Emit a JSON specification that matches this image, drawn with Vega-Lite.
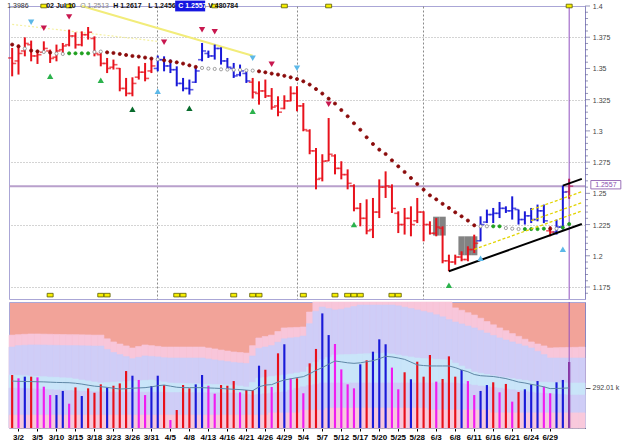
{
"$schema": "https://vega.github.io/schema/vega-lite/v6.json",
"padding": {"left": 6, "top": 0, "right": 2, "bottom": 2},
"background": "white",
"spacing": 1,
"config": {"view": {"stroke": "#aaa6d6"}, "axis": {"labelFont": "Liberation Sans"}, "text": {"font": "Liberation Sans"}},
"datasets": {
"bars": [
{"d":"3/1","o":1.3584,"h":1.3664,"l":1.3437,"c":1.354,"t":"dn","v":386,"vc":"r","ma":342,"b1":677,"b2":590,"b3":386,"b4":291,"b5":95,"s":1.3691,"ss":"m"},
{"d":"3/2","o":1.356,"h":1.3691,"l":1.3451,"c":1.362,"t":"dn","v":362,"vc":"m","ma":340,"b1":680,"b2":600,"b3":384,"b4":289,"b5":95,"s":1.3677,"ss":"m"},
{"d":"3/3","o":1.364,"h":1.3749,"l":1.3597,"c":1.37,"t":"dn","v":374,"vc":"b","ma":339,"b1":683,"b2":603,"b3":381,"b4":287,"b5":95,"s":1.3659,"ss":"w"},
{"d":"3/4","o":1.369,"h":1.3723,"l":1.3557,"c":1.36,"t":"dn","v":374,"vc":"r","ma":338,"b1":685,"b2":605,"b3":379,"b4":285,"b5":95,"s":1.3643,"ss":"m"},
{"d":"3/5","o":1.36,"h":1.3643,"l":1.3536,"c":1.361,"t":"dn","v":369,"vc":"m","ma":337,"b1":685,"b2":605,"b3":376,"b4":283,"b5":95,"s":1.3637,"ss":"m"},
{"d":"3/8","o":1.363,"h":1.3717,"l":1.3624,"c":1.366,"t":"dn","v":301,"vc":"m","ma":336,"b1":684,"b2":604,"b3":374,"b4":281,"b5":95,"s":1.3632,"ss":"w"},
{"d":"3/9","o":1.364,"h":1.3651,"l":1.3544,"c":1.358,"t":"dn","v":240,"vc":"m","ma":334,"b1":683,"b2":603,"b3":371,"b4":279,"b5":95,"s":1.3627,"ss":"m"},
{"d":"3/10","o":1.359,"h":1.3691,"l":1.3557,"c":1.364,"t":"dn","v":240,"vc":"b","ma":332,"b1":682,"b2":602,"b3":369,"b4":277,"b5":95,"s":1.3619,"ss":"w"},
{"d":"3/11","o":1.365,"h":1.3704,"l":1.3624,"c":1.368,"t":"dn","v":270,"vc":"b","ma":331,"b1":681,"b2":601,"b3":366,"b4":275,"b5":95,"s":1.3616,"ss":"w"},
{"d":"3/12","o":1.369,"h":1.3811,"l":1.3677,"c":1.376,"t":"dn","v":177,"vc":"m","ma":330,"b1":680,"b2":600,"b3":364,"b4":273,"b5":95,"s":1.3621,"ss":"g"},
{"d":"3/15","o":1.376,"h":1.3789,"l":1.3659,"c":1.369,"t":"dn","v":296,"vc":"r","ma":326,"b1":680,"b2":600,"b3":357,"b4":270,"b5":95,"s":1.3621,"ss":"g"},
{"d":"3/16","o":1.369,"h":1.3797,"l":1.3677,"c":1.377,"t":"dn","v":233,"vc":"b","ma":320,"b1":679,"b2":599,"b3":350,"b4":268,"b5":95,"s":1.3621,"ss":"g"},
{"d":"3/17","o":1.377,"h":1.3832,"l":1.3731,"c":1.379,"t":"dn","v":289,"vc":"r","ma":312,"b1":678,"b2":598,"b3":342,"b4":266,"b5":95,"s":1.3621,"ss":"g"},
{"d":"3/18","o":1.374,"h":1.3757,"l":1.3597,"c":1.362,"t":"dn","v":257,"vc":"r","ma":305,"b1":677,"b2":597,"b3":335,"b4":264,"b5":95,"s":1.3632,"ss":"w"},
{"d":"3/19","o":1.361,"h":1.3637,"l":1.3517,"c":1.354,"t":"dn","v":318,"vc":"r","ma":301,"b1":677,"b2":597,"b3":328,"b4":262,"b5":95,"s":1.3635,"ss":"w"},
{"d":"3/22","o":1.354,"h":1.3584,"l":1.3463,"c":1.35,"t":"dn","v":294,"vc":"b","ma":296,"b1":650,"b2":572,"b3":331,"b4":262,"b5":95,"s":1.3629,"ss":"m"},
{"d":"3/23","o":1.351,"h":1.3571,"l":1.3491,"c":1.353,"t":"dn","v":308,"vc":"r","ma":290,"b1":627,"b2":550,"b3":334,"b4":261,"b5":95,"s":1.3624,"ss":"m"},
{"d":"3/24","o":1.35,"h":1.3504,"l":1.3317,"c":1.334,"t":"dn","v":325,"vc":"r","ma":284,"b1":612,"b2":535,"b3":336,"b4":261,"b5":95,"s":1.3616,"ss":"m"},
{"d":"3/25","o":1.334,"h":1.3424,"l":1.3277,"c":1.33,"t":"dn","v":415,"vc":"r","ma":286,"b1":598,"b2":520,"b3":339,"b4":261,"b5":95,"s":1.3608,"ss":"m"},
{"d":"3/26","o":1.33,"h":1.3429,"l":1.3277,"c":1.338,"t":"dn","v":381,"vc":"b","ma":290,"b1":583,"b2":505,"b3":342,"b4":260,"b5":95,"s":1.36,"ss":"m"},
{"d":"3/29","o":1.343,"h":1.3517,"l":1.3411,"c":1.347,"t":"dn","v":350,"vc":"m","ma":292,"b1":594,"b2":515,"b3":344,"b4":260,"b5":95,"s":1.3595,"ss":"m"},
{"d":"3/30","o":1.347,"h":1.3544,"l":1.3397,"c":1.342,"t":"dn","v":240,"vc":"m","ma":294,"b1":605,"b2":525,"b3":347,"b4":260,"b5":95,"s":1.3587,"ss":"m"},
{"d":"3/31","o":1.348,"h":1.3584,"l":1.3463,"c":1.352,"t":"dn","v":306,"vc":"b","ma":300,"b1":600,"b2":522,"b3":350,"b4":259,"b5":95,"s":1.3579,"ss":"m"},
{"d":"4/1","o":1.35,"h":1.3603,"l":1.3477,"c":1.357,"t":"up","v":381,"vc":"b","ma":308,"b1":595,"b2":518,"b3":343,"b4":259,"b5":95,"s":1.3573,"ss":"w"},
{"d":"4/2","o":1.357,"h":1.3597,"l":1.3477,"c":1.352,"t":"up","v":313,"vc":"r","ma":313,"b1":590,"b2":512,"b3":335,"b4":259,"b5":95,"s":1.3565,"ss":"m"},
{"d":"4/5","o":1.352,"h":1.3571,"l":1.3463,"c":1.349,"t":"up","v":58,"vc":"m","ma":305,"b1":590,"b2":510,"b3":328,"b4":258,"b5":95,"s":1.3557,"ss":"m"},
{"d":"4/6","o":1.349,"h":1.3517,"l":1.3357,"c":1.338,"t":"up","v":131,"vc":"r","ma":297,"b1":590,"b2":510,"b3":326,"b4":258,"b5":95,"s":1.3549,"ss":"m"},
{"d":"4/7","o":1.338,"h":1.3424,"l":1.3317,"c":1.334,"t":"up","v":313,"vc":"r","ma":294,"b1":590,"b2":510,"b3":325,"b4":258,"b5":95,"s":1.3539,"ss":"m"},
{"d":"4/8","o":1.334,"h":1.3411,"l":1.3291,"c":1.333,"t":"up","v":289,"vc":"r","ma":294,"b1":590,"b2":510,"b3":323,"b4":257,"b5":95,"s":1.3525,"ss":"m"},
{"d":"4/9","o":1.339,"h":1.3504,"l":1.3384,"c":1.348,"t":"up","v":318,"vc":"b","ma":294,"b1":590,"b2":510,"b3":322,"b4":257,"b5":95,"s":1.3512,"ss":"m"},
{"d":"4/12","o":1.357,"h":1.3704,"l":1.3557,"c":1.364,"t":"up","v":386,"vc":"b","ma":294,"b1":590,"b2":510,"b3":320,"b4":257,"b5":95,"s":1.3504,"ss":"w"},
{"d":"4/13","o":1.362,"h":1.3643,"l":1.3584,"c":1.36,"t":"up","v":308,"vc":"m","ma":292,"b1":583,"b2":503,"b3":319,"b4":256,"b5":95,"s":1.3499,"ss":"w"},
{"d":"4/14","o":1.36,"h":1.3691,"l":1.3571,"c":1.366,"t":"up","v":250,"vc":"m","ma":290,"b1":576,"b2":496,"b3":317,"b4":256,"b5":95,"s":1.3496,"ss":"w"},
{"d":"4/15","o":1.366,"h":1.3669,"l":1.3531,"c":1.356,"t":"up","v":313,"vc":"r","ma":288,"b1":568,"b2":490,"b3":316,"b4":256,"b5":95,"s":1.3493,"ss":"w"},
{"d":"4/16","o":1.356,"h":1.3584,"l":1.3491,"c":1.351,"t":"up","v":308,"vc":"r","ma":285,"b1":561,"b2":484,"b3":314,"b4":255,"b5":95,"s":1.3491,"ss":"w"},
{"d":"4/19","o":1.35,"h":1.3544,"l":1.3424,"c":1.344,"t":"up","v":342,"vc":"r","ma":282,"b1":554,"b2":478,"b3":313,"b4":255,"b5":95,"s":1.3489,"ss":"w"},
{"d":"4/20","o":1.345,"h":1.3531,"l":1.3437,"c":1.348,"t":"up","v":260,"vc":"m","ma":280,"b1":550,"b2":474,"b3":306,"b4":250,"b5":95,"s":1.3488,"ss":"w"},
{"d":"4/21","o":1.346,"h":1.3477,"l":1.3384,"c":1.34,"t":"up","v":277,"vc":"r","ma":276,"b1":546,"b2":470,"b3":299,"b4":245,"b5":95,"s":1.3485,"ss":"w"},
{"d":"4/22","o":1.339,"h":1.3424,"l":1.3259,"c":1.331,"t":"dn","v":277,"vc":"r","ma":272,"b1":600,"b2":525,"b3":332,"b4":240,"b5":95,"s":1.3483,"ss":"w"},
{"d":"4/23","o":1.33,"h":1.3397,"l":1.321,"c":1.332,"t":"dn","v":454,"vc":"b","ma":300,"b1":656,"b2":580,"b3":364,"b4":244,"b5":95,"s":1.3477,"ss":"m"},
{"d":"4/26","o":1.332,"h":1.3411,"l":1.3263,"c":1.328,"t":"dn","v":425,"vc":"r","ma":313,"b1":667,"b2":590,"b3":370,"b4":249,"b5":95,"s":1.3469,"ss":"m"},
{"d":"4/27","o":1.328,"h":1.3343,"l":1.317,"c":1.319,"t":"dn","v":299,"vc":"m","ma":316,"b1":677,"b2":600,"b3":375,"b4":253,"b5":110,"s":1.3459,"ss":"m"},
{"d":"4/28","o":1.32,"h":1.3277,"l":1.3117,"c":1.315,"t":"dn","v":544,"vc":"r","ma":335,"b1":703,"b2":625,"b3":381,"b4":258,"b5":110,"s":1.3451,"ss":"m"},
{"d":"4/29","o":1.318,"h":1.3285,"l":1.3173,"c":1.324,"t":"dn","v":610,"vc":"b","ma":350,"b1":729,"b2":650,"b3":386,"b4":262,"b5":110,"s":1.3441,"ss":"m"},
{"d":"4/30","o":1.324,"h":1.3357,"l":1.3237,"c":1.33,"t":"dn","v":362,"vc":"m","ma":358,"b1":731,"b2":656,"b3":393,"b4":275,"b5":110,"s":1.3429,"ss":"m"},
{"d":"5/3","o":1.33,"h":1.3357,"l":1.3157,"c":1.32,"t":"dn","v":362,"vc":"r","ma":367,"b1":733,"b2":660,"b3":401,"b4":288,"b5":110,"s":1.3415,"ss":"m"},
{"d":"5/4","o":1.32,"h":1.3223,"l":1.2997,"c":1.301,"t":"dn","v":253,"vc":"m","ma":374,"b1":736,"b2":670,"b3":408,"b4":300,"b5":130,"s":1.3397,"ss":"m"},
{"d":"5/5","o":1.3,"h":1.3013,"l":1.2813,"c":1.284,"t":"dn","v":471,"vc":"r","ma":395,"b1":845,"b2":760,"b3":445,"b4":309,"b5":130,"s":1.3371,"ss":"m"},
{"d":"5/6","o":1.284,"h":1.2863,"l":1.2532,"c":1.2612,"t":"dn","v":576,"vc":"r","ma":420,"b1":918,"b2":850,"b3":481,"b4":318,"b5":130,"s":1.3335,"ss":"m"},
{"d":"5/7","o":1.262,"h":1.2813,"l":1.2596,"c":1.2757,"t":"dn","v":835,"vc":"b","ma":440,"b1":918,"b2":881,"b3":498,"b4":328,"b5":130,"s":1.3299,"ss":"m"},
{"d":"5/10","o":1.276,"h":1.3103,"l":1.2757,"c":1.2813,"t":"dn","v":677,"vc":"b","ma":465,"b1":918,"b2":870,"b3":515,"b4":328,"b5":146,"s":1.3258,"ss":"m"},
{"d":"5/11","o":1.28,"h":1.2813,"l":1.2652,"c":1.27,"t":"dn","v":612,"vc":"m","ma":488,"b1":918,"b2":860,"b3":532,"b4":328,"b5":146,"s":1.3219,"ss":"m"},
{"d":"5/12","o":1.27,"h":1.2757,"l":1.2612,"c":1.265,"t":"dn","v":427,"vc":"m","ma":482,"b1":918,"b2":865,"b3":534,"b4":328,"b5":146,"s":1.3167,"ss":"m"},
{"d":"5/13","o":1.265,"h":1.2692,"l":1.2532,"c":1.258,"t":"dn","v":318,"vc":"m","ma":475,"b1":918,"b2":875,"b3":535,"b4":328,"b5":146,"s":1.3117,"ss":"m"},
{"d":"5/14","o":1.256,"h":1.2572,"l":1.2356,"c":1.238,"t":"dn","v":289,"vc":"m","ma":471,"b1":918,"b2":885,"b3":537,"b4":328,"b5":146,"s":1.3061,"ss":"m"},
{"d":"5/17","o":1.238,"h":1.2423,"l":1.2236,"c":1.23,"t":"dn","v":464,"vc":"b","ma":475,"b1":918,"b2":896,"b3":539,"b4":328,"b5":146,"s":1.3009,"ss":"m"},
{"d":"5/18","o":1.23,"h":1.2452,"l":1.2172,"c":1.22,"t":"dn","v":493,"vc":"r","ma":483,"b1":918,"b2":896,"b3":541,"b4":328,"b5":146,"s":1.2949,"ss":"m"},
{"d":"5/19","o":1.221,"h":1.2463,"l":1.2142,"c":1.235,"t":"dn","v":556,"vc":"b","ma":490,"b1":918,"b2":896,"b3":543,"b4":328,"b5":146,"s":1.2895,"ss":"m"},
{"d":"5/20","o":1.235,"h":1.2612,"l":1.2302,"c":1.255,"t":"dn","v":646,"vc":"b","ma":505,"b1":918,"b2":896,"b3":544,"b4":328,"b5":146,"s":1.285,"ss":"m"},
{"d":"5/21","o":1.255,"h":1.2676,"l":1.2463,"c":1.256,"t":"dn","v":610,"vc":"b","ma":522,"b1":918,"b2":896,"b3":546,"b4":328,"b5":146,"s":1.2815,"ss":"m"},
{"d":"5/24","o":1.255,"h":1.2572,"l":1.2343,"c":1.238,"t":"dn","v":440,"vc":"m","ma":518,"b1":918,"b2":896,"b3":539,"b4":328,"b5":146,"s":1.2764,"ss":"m"},
{"d":"5/25","o":1.234,"h":1.2356,"l":1.2182,"c":1.225,"t":"dn","v":282,"vc":"m","ma":510,"b1":918,"b2":890,"b3":532,"b4":328,"b5":146,"s":1.2716,"ss":"m"},
{"d":"5/26","o":1.225,"h":1.2383,"l":1.217,"c":1.23,"t":"dn","v":406,"vc":"r","ma":500,"b1":918,"b2":880,"b3":524,"b4":328,"b5":146,"s":1.2671,"ss":"m"},
{"d":"5/27","o":1.23,"h":1.2396,"l":1.2156,"c":1.225,"t":"dn","v":355,"vc":"b","ma":480,"b1":918,"b2":870,"b3":517,"b4":328,"b5":146,"s":1.2623,"ss":"m"},
{"d":"5/28","o":1.228,"h":1.2463,"l":1.2262,"c":1.235,"t":"dn","v":483,"vc":"r","ma":460,"b1":918,"b2":860,"b3":510,"b4":328,"b5":146,"s":1.2575,"ss":"m"},
{"d":"6/1","o":1.235,"h":1.2356,"l":1.2116,"c":1.225,"t":"dn","v":374,"vc":"r","ma":455,"b1":918,"b2":850,"b3":507,"b4":328,"b5":146,"s":1.253,"ss":"m"},
{"d":"6/2","o":1.225,"h":1.2276,"l":1.217,"c":1.218,"t":"dn","v":532,"vc":"r","ma":452,"b1":918,"b2":840,"b3":504,"b4":328,"b5":131,"s":1.2484,"ss":"m"},
{"d":"6/3","o":1.218,"h":1.2302,"l":1.2156,"c":1.223,"t":"dn","v":338,"vc":"m","ma":452,"b1":918,"b2":825,"b3":501,"b4":328,"b5":131,"s":1.2452,"ss":"m"},
{"d":"6/4","o":1.222,"h":1.2236,"l":1.194,"c":1.196,"t":"dn","v":357,"vc":"r","ma":452,"b1":918,"b2":810,"b3":498,"b4":328,"b5":131,"s":1.2416,"ss":"m"},
{"d":"6/7","o":1.196,"h":1.2009,"l":1.1876,"c":1.195,"t":"dn","v":522,"vc":"r","ma":452,"b1":918,"b2":790,"b3":495,"b4":328,"b5":131,"s":1.2383,"ss":"m"},
{"d":"6/8","o":1.195,"h":1.2009,"l":1.1929,"c":1.199,"t":"dn","v":374,"vc":"r","ma":440,"b1":875,"b2":772,"b3":473,"b4":328,"b5":131,"s":1.2348,"ss":"m"},
{"d":"6/9","o":1.199,"h":1.2036,"l":1.1956,"c":1.197,"t":"dn","v":423,"vc":"b","ma":423,"b1":858,"b2":758,"b3":452,"b4":323,"b5":131,"s":1.2316,"ss":"m"},
{"d":"6/10","o":1.197,"h":1.2076,"l":1.1956,"c":1.205,"t":"dn","v":342,"vc":"m","ma":410,"b1":840,"b2":743,"b3":430,"b4":317,"b5":131,"s":1.2282,"ss":"m"},
{"d":"6/11","o":1.205,"h":1.2169,"l":1.2022,"c":1.21,"t":"dn","v":240,"vc":"m","ma":390,"b1":823,"b2":729,"b3":408,"b4":312,"b5":131,"s":1.2244,"ss":"m"},
{"d":"6/14","o":1.212,"h":1.2316,"l":1.2116,"c":1.225,"t":"up","v":270,"vc":"b","ma":381,"b1":800,"b2":711,"b3":399,"b4":306,"b5":131,"s":1.2236,"ss":"w"},
{"d":"6/15","o":1.227,"h":1.237,"l":1.2262,"c":1.233,"t":"up","v":313,"vc":"b","ma":378,"b1":776,"b2":692,"b3":390,"b4":301,"b5":131,"s":1.2236,"ss":"w"},
{"d":"6/16","o":1.233,"h":1.2383,"l":1.2262,"c":1.234,"t":"up","v":333,"vc":"r","ma":375,"b1":752,"b2":674,"b3":381,"b4":295,"b5":110,"s":1.2236,"ss":"g"},
{"d":"6/17","o":1.234,"h":1.2431,"l":1.2302,"c":1.238,"t":"up","v":260,"vc":"m","ma":368,"b1":729,"b2":656,"b3":372,"b4":290,"b5":110,"s":1.2236,"ss":"g"},
{"d":"6/18","o":1.238,"h":1.2396,"l":1.2343,"c":1.236,"t":"up","v":321,"vc":"r","ma":360,"b1":709,"b2":641,"b3":366,"b4":284,"b5":110,"s":1.2222,"ss":"w"},
{"d":"6/21","o":1.236,"h":1.2476,"l":1.229,"c":1.238,"t":"up","v":192,"vc":"m","ma":348,"b1":688,"b2":627,"b3":360,"b4":278,"b5":110,"s":1.2217,"ss":"w"},
{"d":"6/22","o":1.237,"h":1.237,"l":1.225,"c":1.229,"t":"up","v":262,"vc":"r","ma":335,"b1":668,"b2":612,"b3":353,"b4":272,"b5":110,"s":1.2214,"ss":"w"},
{"d":"6/23","o":1.229,"h":1.2356,"l":1.225,"c":1.232,"t":"up","v":282,"vc":"b","ma":328,"b1":647,"b2":598,"b3":347,"b4":267,"b5":110,"s":1.2214,"ss":"g"},
{"d":"6/24","o":1.232,"h":1.2383,"l":1.2262,"c":1.229,"t":"up","v":318,"vc":"b","ma":318,"b1":627,"b2":583,"b3":341,"b4":261,"b5":110,"s":1.2214,"ss":"g"},
{"d":"6/25","o":1.229,"h":1.241,"l":1.2276,"c":1.236,"t":"up","v":342,"vc":"b","ma":310,"b1":612,"b2":559,"b3":335,"b4":255,"b5":110,"s":1.2214,"ss":"g"},
{"d":"6/28","o":1.236,"h":1.241,"l":1.2262,"c":1.228,"t":"up","v":301,"vc":"m","ma":300,"b1":598,"b2":535,"b3":334,"b4":252,"b5":110,"s":1.2217,"ss":"g"},
{"d":"6/29","o":1.22,"h":1.2236,"l":1.2156,"c":1.219,"t":"dn","v":253,"vc":"m","ma":287,"b1":583,"b2":510,"b3":332,"b4":249,"b5":110,"s":1.2217,"ss":"m"},
{"d":"6/30","o":1.219,"h":1.229,"l":1.217,"c":1.223,"t":"up","v":333,"vc":"b","ma":288,"b1":585,"b2":510,"b3":331,"b4":246,"b5":110,"s":1.2217,"ss":"w"},
{"d":"7/1","o":1.223,"h":1.2562,"l":1.221,"c":1.251,"t":"up","v":350,"vc":"b","ma":290,"b1":586,"b2":510,"b3":330,"b4":243,"b5":110,"s":1.2226,"ss":"g"},
{"d":"7/2","o":1.2513,"h":1.2617,"l":1.2456,"c":1.2557,"t":"ls","v":481,"vc":"p","ma":292.01,"b1":587,"b2":510,"b3":328,"b4":240,"b5":110,"s":1.2254,"ss":"g"},
{"d":"p1","b1":588,"b2":510,"b3":328,"b4":240,"b5":110},
{"d":"p2","b1":590,"b2":510,"b3":328,"b4":240,"b5":110}
],
"sig": [
{"d":"3/4","p":1.3869,"k":"dlb"},{"d":"3/8","p":1.3821,"k":"dr"},{"d":"3/12","p":1.3913,"k":"dr"},{"d":"4/2","p":1.3709,"k":"dr"},{"d":"4/12","p":1.3809,"k":"dr"},{"d":"4/14","p":1.3793,"k":"dr"},{"d":"4/22","p":1.3581,"k":"dlb"},{"d":"4/27","p":1.3533,"k":"dr"},{"d":"5/3","p":1.3501,"k":"dlb"},{"d":"5/10","p":1.3213,"k":"dr"},
{"d":"3/9","p":1.3437,"k":"ug"},{"d":"3/19","p":1.3405,"k":"ug"},{"d":"3/26","p":1.3173,"k":"udg"},{"d":"4/1","p":1.3317,"k":"ulb"},{"d":"4/8","p":1.3181,"k":"udg"},{"d":"4/22","p":1.3157,"k":"ug"},{"d":"5/14","p":1.225,"k":"ug"},{"d":"6/7","p":1.1764,"k":"ug"},{"d":"6/14","p":1.198,"k":"ulb"},{"d":"7/1","p":1.2052,"k":"ulb"}
],
"tl": [
{"g":"lo","d":"6/7","p":1.1876},{"g":"lo","d":"p2","p":1.2254},
{"g":"up","d":"7/1","p":1.2562},{"g":"up","d":"p2","p":1.2616},
{"g":"y1","d":"6/11","p":1.2052},{"g":"y1","d":"p2","p":1.2359},
{"g":"y2","d":"6/24","p":1.2281},{"g":"y2","d":"p2","p":1.2425},
{"g":"y3","d":"6/24","p":1.2369},{"g":"y3","d":"p2","p":1.2513},
{"g":"pa","d":"3/16","p":1.4},{"g":"pa","d":"4/22","p":1.3602},
{"g":"pb","d":"3/1","p":1.3853},{"g":"pb","d":"4/1","p":1.3717}
],
"boxes": [
{"d":"6/3","top":1.2313,"bot":1.2162},{"d":"6/4","top":1.2313,"bot":1.2162},
{"d":"6/9","top":1.2156,"bot":1.2004},{"d":"6/10","top":1.2156,"bot":1.2004},{"d":"6/11","top":1.2156,"bot":1.2004}
],
"marks": [
{"d":"3/8","pos":"top"},{"d":"3/12","pos":"top"},{"d":"4/12","pos":"top"},{"d":"4/14","pos":"top"},{"d":"4/29","pos":"top"},{"d":"5/10","pos":"top"},{"d":"7/2","pos":"top"},
{"d":"3/9","pos":"bot"},{"d":"3/19","pos":"bot"},{"d":"3/22","pos":"bot"},{"d":"4/6","pos":"bot"},{"d":"4/7","pos":"bot"},{"d":"4/19","pos":"bot"},{"d":"4/22","pos":"bot"},{"d":"4/23","pos":"bot"},{"d":"5/4","pos":"bot"},{"d":"5/11","pos":"bot"},{"d":"5/13","pos":"bot"},{"d":"5/14","pos":"bot"},{"d":"5/17","pos":"bot"},{"d":"5/24","pos":"bot"},{"d":"5/25","pos":"bot"}
],
"ylab": [
{"p":1.175,"lab":"1.175"},{"p":1.2,"lab":"1.2"},{"p":1.225,"lab":"1.225"},{"p":1.25,"lab":"1.25"},{"p":1.275,"lab":"1.275"},{"p":1.3,"lab":"1.3"},{"p":1.325,"lab":"1.325"},{"p":1.35,"lab":"1.35"},{"p":1.375,"lab":"1.375"},{"p":1.4,"lab":"1.4"}
],
"ymin": [
{"p":1.17},{"p":1.18},{"p":1.185},{"p":1.19},{"p":1.195},{"p":1.205},{"p":1.21},{"p":1.215},{"p":1.22},{"p":1.23},{"p":1.235},{"p":1.24},{"p":1.245},{"p":1.255},{"p":1.26},{"p":1.265},{"p":1.27},{"p":1.28},{"p":1.285},{"p":1.29},{"p":1.295},{"p":1.305},{"p":1.31},{"p":1.315},{"p":1.32},{"p":1.33},{"p":1.335},{"p":1.34},{"p":1.345},{"p":1.355},{"p":1.36},{"p":1.365},{"p":1.37},{"p":1.38},{"p":1.385},{"p":1.39},{"p":1.395}
]
},
"vconcat": [
{
"width": 576, "height": 293,
"resolve": {"scale": {"color": "independent", "fill": "independent", "stroke": "independent", "shape": "independent"}},
"layer": [
{"data": {"name": "boxes"}, "mark": {"type": "bar", "color": "#7c7c7c", "opacity": 0.95},
 "encoding": {
  "x": {"field": "d", "type": "ordinal", "scale": {"domain": ["3/1","3/2","3/3","3/4","3/5","3/8","3/9","3/10","3/11","3/12","3/15","3/16","3/17","3/18","3/19","3/22","3/23","3/24","3/25","3/26","3/29","3/30","3/31","4/1","4/2","4/5","4/6","4/7","4/8","4/9","4/12","4/13","4/14","4/15","4/16","4/19","4/20","4/21","4/22","4/23","4/26","4/27","4/28","4/29","4/30","5/3","5/4","5/5","5/6","5/7","5/10","5/11","5/12","5/13","5/14","5/17","5/18","5/19","5/20","5/21","5/24","5/25","5/26","5/27","5/28","6/1","6/2","6/3","6/4","6/7","6/8","6/9","6/10","6/11","6/14","6/15","6/16","6/17","6/18","6/21","6/22","6/23","6/24","6/25","6/28","6/29","6/30","7/1","7/2","p1","p2"], "paddingInner": 0, "paddingOuter": 0},
   "axis": {"values": ["4/1","5/3","6/1"], "title": null, "labels": false, "ticks": false, "domain": false, "grid": true, "gridColor": "#8a8a8a", "gridDash": [2,2], "gridWidth": 1, "bandPosition": 0.5}},
  "y": {"field": "top", "type": "quantitative", "scale": {"domain": [1.1654, 1.4], "nice": false, "zero": false},
   "axis": {"orient": "right", "title": null, "values": [1.175,1.2,1.225,1.25,1.275,1.3,1.325,1.35,1.375,1.4],
    "labels": false, "ticks": false, "domainColor": "#8a86c0",
    "grid": true, "gridColor": "#a8a8a8", "gridDash": [1,2]}},
  "y2": {"field": "bot"}}},
{"data": {"values": [{}]}, "mark": {"type": "rule", "color": "#b9a0cc", "strokeWidth": 2}, "encoding": {"y": {"datum": 1.2557, "type": "quantitative"}}},
{"data": {"values": [{}]}, "mark": {"type": "rule", "color": "#9250c0", "strokeWidth": 1}, "encoding": {"x": {"datum": "7/2", "type": "ordinal"}}},
{"data": {"name": "tl"}, "transform": [{"filter": {"field": "g", "equal": "pa"}}], "mark": {"type": "line", "color": "#f2ec7a", "strokeWidth": 2}, "encoding": {"x": {"field": "d", "type": "ordinal"}, "y": {"field": "p", "type": "quantitative"}, "detail": {"field": "g"}}},
{"data": {"name": "tl"}, "transform": [{"filter": {"field": "g", "equal": "pb"}}], "mark": {"type": "line", "color": "#f4f0a0", "strokeWidth": 1.2, "strokeDash": [2,2]}, "encoding": {"x": {"field": "d", "type": "ordinal"}, "y": {"field": "p", "type": "quantitative"}, "detail": {"field": "g"}}},
{"data": {"name": "bars"}, "mark": {"type": "rule", "strokeWidth": 2},
 "encoding": {"x": {"field": "d", "type": "ordinal"}, "y": {"field": "l", "type": "quantitative"}, "y2": {"field": "h"},
  "color": {"field": "t", "type": "nominal", "scale": {"domain": ["dn","up","ls"], "range": ["#e8121c","#1818d8","#b8205e"]}, "legend": null}}},
{"data": {"name": "bars"}, "mark": {"type": "tick", "xOffset": -2, "size": 4, "thickness": 1.6},
 "encoding": {"x": {"field": "d", "type": "ordinal"}, "y": {"field": "o", "type": "quantitative"},
  "color": {"field": "t", "type": "nominal", "scale": {"domain": ["dn","up","ls"], "range": ["#e8121c","#1818d8","#b8205e"]}, "legend": null}}},
{"data": {"name": "bars"}, "mark": {"type": "tick", "xOffset": 2, "size": 4, "thickness": 1.6},
 "encoding": {"x": {"field": "d", "type": "ordinal"}, "y": {"field": "c", "type": "quantitative"},
  "color": {"field": "t", "type": "nominal", "scale": {"domain": ["dn","up","ls"], "range": ["#e8121c","#1818d8","#b8205e"]}, "legend": null}}},
{"data": {"name": "bars"}, "mark": {"type": "point", "filled": true, "size": 10, "strokeWidth": 0.8, "opacity": 1},
 "encoding": {"x": {"field": "d", "type": "ordinal"}, "y": {"field": "s", "type": "quantitative"},
  "fill": {"field": "ss", "type": "nominal", "scale": {"domain": ["m","g","w"], "range": ["#8a0a0a","#1fa01f","#ffffff"]}, "legend": null},
  "stroke": {"field": "ss", "type": "nominal", "scale": {"domain": ["m","g","w"], "range": ["#8a0a0a","#1fa01f","#8a8a8a"]}, "legend": null}}},
{"data": {"name": "tl"}, "transform": [{"filter": {"field": "g", "oneOf": ["y1","y2","y3"]}}], "mark": {"type": "line", "color": "#e2d400", "strokeWidth": 1.3, "strokeDash": [3,2]}, "encoding": {"x": {"field": "d", "type": "ordinal"}, "y": {"field": "p", "type": "quantitative"}, "detail": {"field": "g"}}},
{"data": {"name": "tl"}, "transform": [{"filter": {"field": "g", "oneOf": ["lo","up"]}}], "mark": {"type": "line", "color": "#000000", "strokeWidth": 2}, "encoding": {"x": {"field": "d", "type": "ordinal"}, "y": {"field": "p", "type": "quantitative"}, "detail": {"field": "g"}}},
{"data": {"name": "sig"}, "mark": {"type": "point", "filled": true, "size": 40, "opacity": 1},
 "encoding": {"x": {"field": "d", "type": "ordinal"}, "y": {"field": "p", "type": "quantitative"},
  "shape": {"field": "k", "type": "nominal", "scale": {"domain": ["dr","dlb","ug","udg","ulb"], "range": ["triangle-down","triangle-down","triangle-up","triangle-up","triangle-up"]}, "legend": null},
  "color": {"field": "k", "type": "nominal", "scale": {"domain": ["dr","dlb","ug","udg","ulb"], "range": ["#c8174f","#5cb8e8","#2bb24c","#086b2c","#5cb8e8"]}, "legend": null}}},
{"data": {"name": "marks"}, "transform": [{"filter": {"field": "pos", "equal": "top"}}], "mark": {"type": "point", "shape": "M-1,-0.6L1,-0.6L1,0.6L-1,0.6Z", "size": 36, "filled": true, "fill": "#f6ee00", "stroke": "#5a5a00", "strokeWidth": 0.8, "opacity": 1},
 "encoding": {"x": {"field": "d", "type": "ordinal"}, "y": {"datum": 1.4, "type": "quantitative"}}},
{"data": {"name": "marks"}, "transform": [{"filter": {"field": "pos", "equal": "bot"}}], "mark": {"type": "point", "shape": "M-1,-0.6L1,-0.6L1,0.6L-1,0.6Z", "size": 36, "filled": true, "fill": "#f6ee00", "stroke": "#5a5a00", "strokeWidth": 0.8, "opacity": 1},
 "encoding": {"x": {"field": "d", "type": "ordinal"}, "y": {"datum": 1.1685, "type": "quantitative"}}},
{"data": {"name": "ymin"}, "mark": {"type": "tick", "color": "#6a6a9a", "size": 3, "thickness": 1, "xOffset": 4.7},
 "encoding": {"x": {"datum": "p2", "type": "ordinal"}, "y": {"field": "p", "type": "quantitative"}}},
{"data": {"name": "ylab"}, "mark": {"type": "tick", "color": "#6a6a9a", "size": 5, "thickness": 1, "xOffset": 5.7},
 "encoding": {"x": {"datum": "p2", "type": "ordinal"}, "y": {"field": "p", "type": "quantitative"}}},
{"data": {"name": "ylab"}, "mark": {"type": "text", "fontSize": 7, "color": "#444444", "align": "left", "baseline": "middle", "dx": 11, "dy": 1},
 "encoding": {"x": {"datum": "p2", "type": "ordinal"}, "y": {"field": "p", "type": "quantitative"}, "text": {"field": "lab"}}},
{"data": {"values": [{}]}, "mark": {"type": "point", "shape": "M-1,-0.28L1,-0.28L1,0.28L-1,0.28Z", "size": 900, "filled": true, "fill": "#ffffff", "stroke": "#9a70b8", "strokeWidth": 1, "opacity": 1, "xOffset": 24, "yOffset": -1.5},
 "encoding": {"x": {"datum": "p2", "type": "ordinal"}, "y": {"datum": 1.2557, "type": "quantitative"}}},
{"data": {"values": [{}]}, "mark": {"type": "text", "text": "1.2557", "fontSize": 7, "color": "#8a50b0", "align": "center", "baseline": "middle", "dx": 24, "dy": -1.5},
 "encoding": {"x": {"datum": "p2", "type": "ordinal"}, "y": {"datum": 1.2557, "type": "quantitative"}}},
{"data": {"values": [{}]}, "mark": {"type": "point", "shape": "M-1,-0.36L1,-0.36L1,0.36L-1,0.36Z", "size": 900, "filled": true, "fill": "#1616e0", "opacity": 1, "xOffset": 178},
 "encoding": {"x": {"datum": "3/1", "type": "ordinal"}, "y": {"datum": 1.4, "type": "quantitative"}}},
{"data": {"values": [{}]}, "mark": {"type": "text", "text": "1.3986", "fontSize": 7, "color": "#333333", "align": "left", "baseline": "middle", "dx": -5},
 "encoding": {"x": {"datum": "3/1", "type": "ordinal"}, "y": {"datum": 1.4, "type": "quantitative"}}},
{"data": {"values": [{}]}, "mark": {"type": "text", "text": "02 Jul 10", "fontSize": 7, "fontWeight": "bold", "color": "#111111", "align": "left", "baseline": "middle", "dx": 34},
 "encoding": {"x": {"datum": "3/1", "type": "ordinal"}, "y": {"datum": 1.4, "type": "quantitative"}}},
{"data": {"values": [{}]}, "mark": {"type": "text", "text": "O 1.2513", "fontSize": 7, "color": "#8a8a8a", "align": "left", "baseline": "middle", "dx": 68},
 "encoding": {"x": {"datum": "3/1", "type": "ordinal"}, "y": {"datum": 1.4, "type": "quantitative"}}},
{"data": {"values": [{}]}, "mark": {"type": "text", "text": "H 1.2617", "fontSize": 7, "fontWeight": "bold", "color": "#111111", "align": "left", "baseline": "middle", "dx": 101},
 "encoding": {"x": {"datum": "3/1", "type": "ordinal"}, "y": {"datum": 1.4, "type": "quantitative"}}},
{"data": {"values": [{}]}, "mark": {"type": "text", "text": "L 1.2456", "fontSize": 7, "fontWeight": "bold", "color": "#111111", "align": "left", "baseline": "middle", "dx": 136},
 "encoding": {"x": {"datum": "3/1", "type": "ordinal"}, "y": {"datum": 1.4, "type": "quantitative"}}},
{"data": {"values": [{}]}, "mark": {"type": "text", "text": "C 1.2557", "fontSize": 7, "fontWeight": "bold", "color": "#ffffff", "align": "left", "baseline": "middle", "dx": 166},
 "encoding": {"x": {"datum": "3/1", "type": "ordinal"}, "y": {"datum": 1.4, "type": "quantitative"}}},
{"data": {"values": [{}]}, "mark": {"type": "text", "text": "V 480784", "fontSize": 7, "fontWeight": "bold", "color": "#111111", "align": "left", "baseline": "middle", "dx": 196},
 "encoding": {"x": {"datum": "3/1", "type": "ordinal"}, "y": {"datum": 1.4, "type": "quantitative"}}}
]
},
{
"width": 576, "height": 126,
"view": {"fill": "#f2a399", "stroke": "#aaa6d6"},
"resolve": {"scale": {"color": "independent"}},
"data": {"name": "bars"},
"layer": [
{"mark": {"type": "bar", "color": "#f8c6da", "stroke": "#f8c6da", "strokeWidth": 0.6},
 "encoding": {
  "x": {"field": "d", "type": "ordinal", "scale": {"domain": ["3/1","3/2","3/3","3/4","3/5","3/8","3/9","3/10","3/11","3/12","3/15","3/16","3/17","3/18","3/19","3/22","3/23","3/24","3/25","3/26","3/29","3/30","3/31","4/1","4/2","4/5","4/6","4/7","4/8","4/9","4/12","4/13","4/14","4/15","4/16","4/19","4/20","4/21","4/22","4/23","4/26","4/27","4/28","4/29","4/30","5/3","5/4","5/5","5/6","5/7","5/10","5/11","5/12","5/13","5/14","5/17","5/18","5/19","5/20","5/21","5/24","5/25","5/26","5/27","5/28","6/1","6/2","6/3","6/4","6/7","6/8","6/9","6/10","6/11","6/14","6/15","6/16","6/17","6/18","6/21","6/22","6/23","6/24","6/25","6/28","6/29","6/30","7/1","7/2","p1","p2"], "paddingInner": 0, "paddingOuter": 0},
   "axis": {"values": ["3/2","3/5","3/10","3/15","3/18","3/23","3/26","3/31","4/5","4/8","4/13","4/16","4/21","4/26","4/29","5/4","5/7","5/12","5/17","5/20","5/25","5/28","6/3","6/8","6/11","6/16","6/21","6/24","6/29"], "title": null, "labelAngle": 0, "labelFontSize": 8, "labelFontWeight": "bold", "labelColor": "#000000", "labelPadding": 2, "tickSize": 3, "tickColor": "#000000", "domainColor": "#000000", "grid": false, "bandPosition": 0.5, "labelOverlap": false}},
  "y": {"field": "b1", "type": "quantitative", "scale": {"domain": [0, 918], "nice": false, "zero": true},
   "axis": {"orient": "right", "title": null, "values": [292.01], "labelExpr": "'292.01 k'", "labelFontSize": 7, "labelColor": "#444444", "tickSize": 5, "tickColor": "#555555", "domainColor": "#8a86c0", "grid": false, "labelPadding": 2}}}},
{"mark": {"type": "bar", "color": "#cfcdf7", "stroke": "#cfcdf7", "strokeWidth": 0.6}, "encoding": {"x": {"field": "d", "type": "ordinal"}, "y": {"field": "b2", "type": "quantitative"}}},
{"mark": {"type": "bar", "color": "#c9e5f9", "stroke": "#c9e5f9", "strokeWidth": 0.6}, "encoding": {"x": {"field": "d", "type": "ordinal"}, "y": {"field": "b3", "type": "quantitative"}}},
{"mark": {"type": "bar", "color": "#cfcdf7", "stroke": "#cfcdf7", "strokeWidth": 0.6}, "encoding": {"x": {"field": "d", "type": "ordinal"}, "y": {"field": "b4", "type": "quantitative"}}},
{"mark": {"type": "bar", "color": "#f9c9dc", "stroke": "#f9c9dc", "strokeWidth": 0.6}, "encoding": {"x": {"field": "d", "type": "ordinal"}, "y": {"field": "b5", "type": "quantitative"}}},
{"mark": {"type": "bar", "width": {"band": 0.34}},
 "encoding": {"x": {"field": "d", "type": "ordinal"}, "y": {"field": "v", "type": "quantitative"},
  "color": {"field": "vc", "type": "nominal", "scale": {"domain": ["r","b","m","p"], "range": ["#e8101a","#1a1ad8","#f01cf0","#7a1a8a"]}, "legend": null}}},
{"mark": {"type": "line", "color": "#5f87a6", "strokeWidth": 1}, "encoding": {"x": {"field": "d", "type": "ordinal"}, "y": {"field": "ma", "type": "quantitative"}}},
{"data": {"values": [{}]}, "mark": {"type": "rule", "color": "#9250c0", "strokeWidth": 1}, "encoding": {"x": {"datum": "7/2", "type": "ordinal"}}}
]
}
]
}
